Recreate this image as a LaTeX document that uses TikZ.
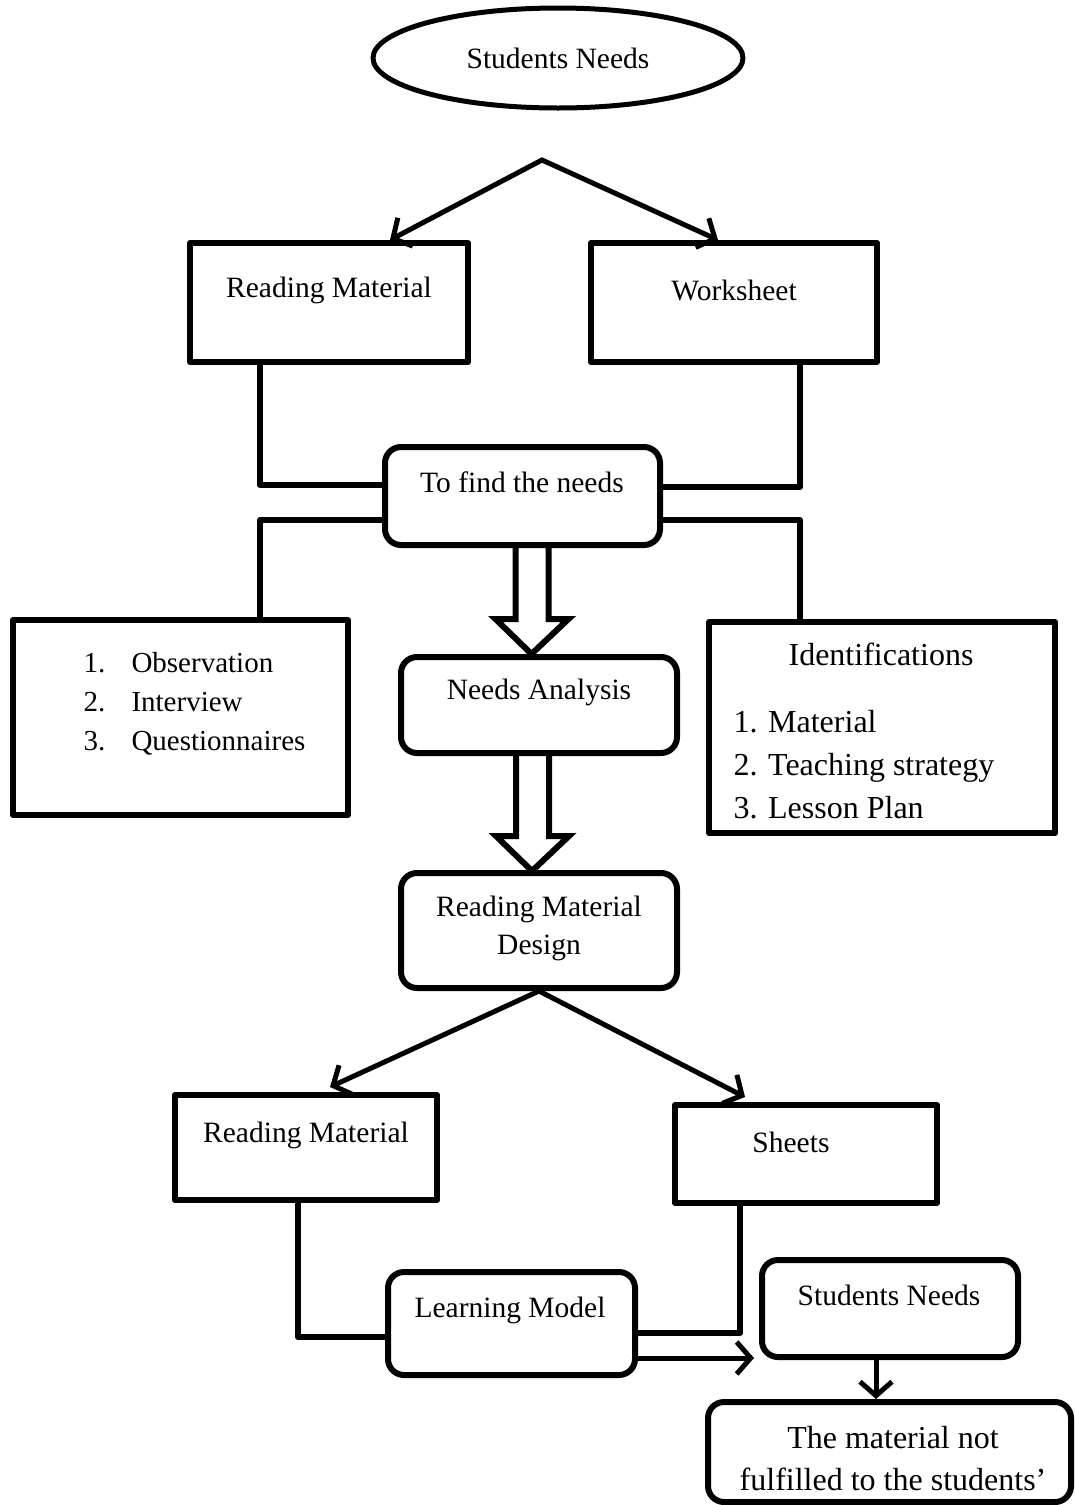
\documentclass[tikz,border=0pt]{standalone}
\usepackage{fontspec}
\setmainfont{Liberation Serif}
\usetikzlibrary{shapes.geometric, arrows.meta, calc}

\begin{document}
\begin{tikzpicture}[x=1pt, y=-1pt, line cap=round, line join=round,
  sqbox/.style={draw, line width=6pt, inner sep=0pt},
  rbox/.style={draw, line width=6pt, rounded corners=16pt, inner sep=0pt},
  txt/.style={font=\fontsize{29.5}{38}\selectfont, align=center},
  bigtxt/.style={font=\fontsize{32}{43}\selectfont, align=left},
  link/.style={line width=6pt},
  arr/.style={line width=5pt, -{Straight Barb[length=14pt, width=32pt]}},
  hollow/.style={line width=6pt, line join=miter}]
  \useasboundingbox (0,0) rectangle (1075,1505);

  % Top oval
  \node[ellipse, draw, line width=5pt, minimum width=370, minimum height=100,
        inner sep=0pt, txt] (stuA) at (558,58) {Students Needs};

  % Boxes
  \node[sqbox, minimum width=278, minimum height=119] (rmA) at (329,302.5) {};
  \node[sqbox, minimum width=286, minimum height=119] (ws) at (734,302.5) {};
  \node[rbox, minimum width=275, minimum height=98] (find) at (522.5,496) {};
  \node[sqbox, minimum width=335, minimum height=195] (obs) at (180.5,717.5) {};
  \node[sqbox, minimum width=346, minimum height=211] (ident) at (882,727.5) {};
  \node[rbox, minimum width=276, minimum height=96] (needs) at (539,705) {};
  \node[rbox, minimum width=276, minimum height=115] (design) at (539,930.5) {};
  \node[sqbox, minimum width=262, minimum height=105] (rmB) at (306,1147.5) {};
  \node[sqbox, minimum width=262, minimum height=98] (sheets) at (806,1154) {};
  \node[rbox, minimum width=247, minimum height=103] (learn) at (511.5,1323.5) {};
  \node[rbox, minimum width=256, minimum height=97] (stuB) at (890,1308.5) {};
  \node[rbox, minimum width=363, minimum height=100] (result) at (889.5,1452) {};

  % Labels
  \node[txt] (rmAt) at (329,290) {Reading Material};
  \node[txt] (wst) at (734,290) {Worksheet};
  \node[txt] (findt) at (522,482) {To find the needs};
  \node[txt, font=\fontsize{29}{39}\selectfont, align=left, anchor=west] (obst) at (80,704)
    {\makebox[48pt][l]{1.}Observation\\ \makebox[48pt][l]{2.}Interview\\ \makebox[48pt][l]{3.}Questionnaires};
  \node[bigtxt, align=center] (identt) at (881,654) {Identifications};
  \node[bigtxt, anchor=west] (identl) at (730,765)
    {1. Material\\ 2. Teaching strategy\\ 3. Lesson Plan};
  \node[txt] (needst) at (539,692) {Needs Analysis};
  \node[txt] (designt) at (539,928) {Reading Material\\ Design};
  \node[txt] (rmBt) at (306,1135) {Reading Material};
  \node[txt] (sheetst) at (791,1142) {Sheets};
  \node[txt] (learnt) at (510,1310) {Learning Model};
  \node[txt] (stuBt) at (889,1295) {Students Needs};
  \node[bigtxt, align=center, font=\fontsize{32}{42}\selectfont] (resultt) at (893,1459)
    {The material not\\ fulfilled to the students’};

  % Elbow points
  \coordinate (fork1) at (542,160);
  \coordinate (k1) at (260,485);
  \coordinate (k2) at (800,487);
  \coordinate (k3) at (260,520);
  \coordinate (k4) at (800,520);
  \coordinate (k5) at (298,1337);
  \coordinate (k6) at (740,1333);
  \coordinate (k7) at (700,1358);
  \coordinate (k8) at (876,1380);

  % Arrows from the top
  \draw[arr] (fork1) -- ($(rmA.north)+(61,0)$);
  \draw[arr] (fork1) -- ($(ws.north)+(-16,0)$);

  % Lines round "To find the needs"
  \draw[link] (rmA.south -| k1) -- (k1) -- (find.west |- k1);
  \draw[link] (ws.south -| k2) -- (k2) -- (find.east |- k2);
  \draw[link] (find.west |- k3) -- (k3) -- (obs.north -| k3);
  \draw[link] (find.east |- k4) -- (k4) -- (ident.north -| k4);

  % Hollow arrows
  \draw[hollow] ($(find.south)+(-7,0)$) -- ++(0,71) -- ++(-20,0) -- ++(36,35)
    -- ++(37,-35) -- ++(-20,0) -- ++(0,-71);
  \draw[hollow] ($(needs.south)+(-23,0)$) -- ++(0,80) -- ++(-20,0) -- ++(36,35)
    -- ++(37,-35) -- ++(-20,0) -- ++(0,-80);

  % Arrows from the design
  \draw[arr] (design.south) -- ($(rmB.north)+(24,-5)$);
  \draw[arr] (design.south) -- ($(sheets.north)+(-61,-5)$);

  % Lines round "Learning Model"
  \draw[link] (rmB.south -| k5) -- (k5) -- (learn.west |- k5);
  \draw[link] (sheets.south -| k6) -- (k6) -- (learn.east |- k6);
  \draw[arr, shorten >=5pt] (learn.east |- k7) -- (stuB.west |- k7);
  \draw[arr] (stuB.south -| k8) -- (result.north -| k8);
\end{tikzpicture}
\end{document}
